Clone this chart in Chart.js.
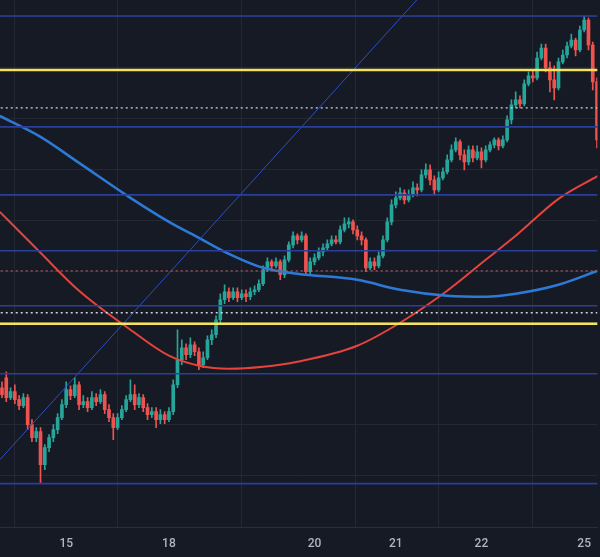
<!DOCTYPE html>
<html>
<head>
<meta charset="utf-8">
<script src="https://cdn.jsdelivr.net/npm/chart.js@4.4.1/dist/chart.umd.min.js"></script>
<style>
  html, body { margin: 0; padding: 0; background: #161a25; }
  #wrap { width: 600px; height: 557px; }
</style>
</head>
<body>
<div id="wrap"><canvas id="c" width="600" height="557"></canvas></div>
<script>
// ---- Candle data (arbitrary price units) ----
const opens  = [172,182,162,168,160,154,162,135,122,128, 95,112,122,130,142,155,170,164,175,155,
                158,152,162,158,165,150,142,132,142,150,160,165,155,162,152,145,148,140,145,140,
                148,175,200,212,205,215,208,195,202,220,225,240,260,268,262,268,262,266,263,268,
                270,276,290,298,294,298,285,300,315,324,320,324,288,298,302,308,312,316,320,318,
                330,336,338,330,324,320,292,298,294,304,320,338,355,362,367,360,365,372,370,385,
                390,380,370,382,388,400,410,418,405,398,410,402,408,400,410,415,420,414,420,440,
                455,460,456,476,484,482,502,512,492,480,472,498,505,514,520,510,530,540,515,478];
const highs  = [178,188,172,175,164,166,165,140,132,132,115,125,135,146,160,178,174,182,178,164,
                162,168,166,170,168,155,146,146,154,164,180,175,166,165,156,152,152,150,148,152,
                180,230,220,216,222,218,212,208,224,230,244,266,275,272,272,272,270,270,272,274,
                280,294,302,300,302,300,304,318,328,326,328,326,302,306,312,316,320,324,324,334,
                342,342,340,334,328,322,302,302,308,324,342,360,368,372,370,370,378,376,390,396,
                395,384,388,392,405,415,422,420,410,414,414,414,412,414,418,422,422,424,444,460,
                468,464,480,488,490,508,516,516,498,494,502,510,518,526,522,534,544,542,518,482];
const lows   = [162,158,160,156,150,152,130,118,118, 77, 90,108,118,126,140,152,160,162,150,152,
                148,150,154,156,146,138,120,130,140,148,158,150,152,148,140,142,132,136,136,138,
                145,172,195,200,202,204,190,192,200,215,222,235,256,258,260,258,260,258,260,265,
                268,274,288,290,292,280,282,298,312,316,318,284,285,295,300,304,310,314,316,316,
                328,332,326,320,315,288,290,290,292,302,318,335,352,360,356,358,363,364,368,382,
                375,365,368,380,386,398,408,400,390,395,398,400,392,398,408,412,410,412,418,436,
                452,452,454,474,478,480,500,488,468,460,470,496,502,512,504,508,528,510,470,412];
const closes = [165,162,168,160,154,162,135,122,128, 95,112,122,130,142,155,170,164,175,155,158,
                152,162,158,165,150,142,132,142,150,160,165,155,162,152,145,148,140,145,140,148,
                175,200,212,205,215,208,195,202,220,225,240,260,268,262,268,262,266,263,268,270,
                276,290,298,294,298,285,300,315,324,320,324,288,298,302,308,312,316,320,318,330,
                336,338,330,324,320,292,298,294,304,320,338,355,362,367,360,365,372,370,385,390,
                380,370,382,388,400,410,418,405,398,410,402,408,400,410,415,420,414,420,440,455,
                460,456,476,484,482,502,512,492,480,472,498,505,514,520,510,530,540,515,478,420];

// ---- Moving averages (sampled at candle indices) ----
const maIdx  = [-0.5, 9, 18, 30, 39, 46, 53, 61, 69, 83, 93, 104, 113, 120, 130, 139.2];
const maBlue = [444, 423, 397, 362, 338, 322, 306, 292, 286, 280, 270, 264, 263, 266, 275, 289];
const maRed  = [348, 307, 269, 230, 204, 194, 191, 193, 198, 214, 237, 269, 300, 324, 361, 384];

// ---- Drawn levels ----
const blueLevels   = [544, 433, 365, 309, 254, 186, 76];
const yellowLevels = [490, 236];
const whiteDotted  = [452, 247];
const redDotted    = [289];
const trendLine    = [{x: -0.47, y: 100}, {x: 99, y: 570}];

// ---- Axis ----
const xTickIdx    = [15, 39, 73, 92, 112, 136];
const xTickLabels = ['15', '18', '20', '21', '22', '25'];
const yGridLevels = [84, 135, 186, 237, 288, 339, 390, 441, 492, 543];

const UP = '#26a69a', DOWN = '#ef5350';
const X_MIN = -0.465, X_MAX = 139.07;

const colors = closes.map((c, i) => c >= opens[i] ? UP : DOWN);
const wickData = closes.map((c, i) => ({x: i, y: [lows[i], highs[i]]}));
const bodyData = closes.map((c, i) => ({x: i, y: [opens[i], c]}));

function hLine(v, color, width, dash, order) {
  return {
    type: 'line', data: [{x: X_MIN - 1, y: v}, {x: X_MAX + 1, y: v}],
    borderColor: color, borderWidth: width, borderDash: dash || [],
    pointRadius: 0, order: order, fill: false
  };
}

const datasets = [
  { type: 'bar', data: wickData, backgroundColor: colors, borderWidth: 0,
    barThickness: 1, grouped: false, order: 20 },
  { type: 'bar', data: bodyData, backgroundColor: colors, borderWidth: 0,
    barThickness: 3, minBarLength: 1, grouped: false, order: 19 },
  { type: 'line', data: maIdx.map((x, i) => ({x, y: maBlue[i]})), borderColor: '#2d7ad6',
    borderWidth: 2.5, pointRadius: 0, tension: 0.4, cubicInterpolationMode: 'monotone', order: 6 },
  { type: 'line', data: maIdx.map((x, i) => ({x, y: maRed[i]})), borderColor: '#e5433b',
    borderWidth: 2, pointRadius: 0, tension: 0.4, cubicInterpolationMode: 'monotone', order: 6 },
  { type: 'line', data: trendLine, borderColor: '#2c4fc4', borderWidth: 1,
    pointRadius: 0, order: 5 }
];
blueLevels.forEach(v => datasets.push(hLine(v, '#2a3f9c', 1.6, null, 3)));
yellowLevels.forEach(v => datasets.push(hLine(v, '#f4e35d', 2.6, null, 2)));
whiteDotted.forEach(v => datasets.push(hLine(v, '#d1d4dc', 1.4, [2, 3], 2)));
redDotted.forEach(v => datasets.push(hLine(v, '#a05a62', 1.2, [2, 3], 2)));

const bgPlugin = {
  id: 'bg',
  beforeDraw(chart) {
    const ctx = chart.ctx;
    ctx.save();
    ctx.fillStyle = '#161a25';
    ctx.fillRect(0, 0, chart.width, chart.height);
    ctx.restore();
  }
};

new Chart(document.getElementById('c'), {
  type: 'bar',
  data: { datasets },
  plugins: [bgPlugin],
  options: {
    responsive: false,
    animation: false,
    layout: { padding: { left: 0, right: 0, top: 0, bottom: -3 } },
    plugins: { legend: { display: false }, tooltip: { enabled: false } },
    scales: {
      x: {
        type: 'linear', min: X_MIN, max: X_MAX, offset: false,
        afterBuildTicks(axis) { axis.ticks = xTickIdx.map(v => ({value: v})); },
        ticks: {
          autoSkip: false, maxRotation: 0, padding: 9, color: '#b2b5be',
          font: { family: 'Roboto', size: 12, weight: '500' },
          callback(value) { const k = xTickIdx.indexOf(value); return k >= 0 ? xTickLabels[k] : ''; }
        },
        grid: { color: '#242835', drawTicks: false },
        border: { display: true, color: '#2a2e39' }
      },
      y: {
        type: 'linear', min: 32, max: 560,
        afterBuildTicks(axis) { axis.ticks = yGridLevels.map(v => ({value: v})); },
        ticks: { display: false },
        grid: { color: '#242835', drawTicks: false },
        border: { display: false }
      }
    }
  }
});
</script>
</body>
</html>
